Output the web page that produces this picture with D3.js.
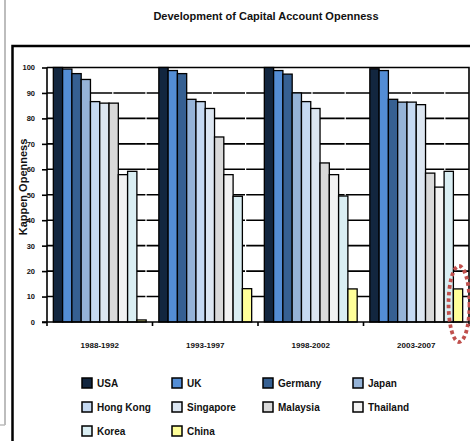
<!DOCTYPE html>
<html>
<head>
<meta charset="utf-8">
<script src="https://cdn.jsdelivr.net/npm/d3@7"></script>
<style>
  html, body { margin: 0; padding: 0; background: #fff; }
  svg { display: block; font-family: "Liberation Sans", Arial, sans-serif; }
</style>
</head>
<body>
<svg id="chart" width="470" height="441"></svg>
<script>
const periods = ["1988-1992", "1993-1997", "1998-2002", "2003-2007"];
const countries = ["USA", "UK", "Germany", "Japan", "Hong Kong", "Singapore", "Malaysia", "Thailand", "Korea", "China"];
const colors = ["#12263f", "#538dd5", "#366092", "#95b3d7", "#c5d9f1", "#dce6f1", "#d9d9d9", "#f2f2f2", "#daeef3", "#ffff99"];
const USA       = [100, 100, 100, 99.5];
const UK        = [99.4, 98.8, 98.8, 98.8];
const Germany   = [97.6, 97.6, 97.4, 87.5];
const Japan     = [95.3, 87.5, 90.0, 86.4];
const HongKong  = [86.6, 86.6, 86.6, 86.4];
const Singapore = [86.0, 83.9, 83.9, 85.4];
const Malaysia  = [86.0, 72.7, 62.5, 58.5];
const Thailand  = [57.9, 57.9, 57.9, 53.0];
const Korea     = [59.2, 49.4, 49.5, 59.2];
const China     = [0.8, 13.1, 13.0, 13.0];
const yTicks = [0, 10, 20, 30, 40, 50, 60, 70, 80, 90, 100];

const seriesValues = [USA, UK, Germany, Japan, HongKong, Singapore, Malaysia, Thailand, Korea, China];

const svg = d3.select("#chart");

// outer decorations
svg.append("line").attr("x1", 5).attr("x2", 5).attr("y1", 0).attr("y2", 425)
  .attr("stroke", "#bdbdbd").attr("stroke-width", 2);
svg.append("line").attr("x1", 0).attr("x2", 5).attr("y1", 425).attr("y2", 425)
  .attr("stroke", "#bdbdbd").attr("stroke-width", 1.5);
svg.append("rect").attr("x", 12.5).attr("y", 46).attr("width", 480).attr("height", 420)
  .attr("fill", "none").attr("stroke", "#000").attr("stroke-width", 2.5);

// title
svg.append("text").attr("x", 266).attr("y", 20).attr("text-anchor", "middle")
  .attr("font-size", 11).attr("font-weight", "bold").attr("fill", "#111")
  .text("Development of Capital Account Openness");

const pLeft = 47, pRight = 469, pTop = 67.5, pBottom = 322;
const x0 = d3.scaleBand().domain(periods).range([pLeft, pRight]).padding(0);
const bw = x0.bandwidth();
const x1 = d3.scaleBand().domain(countries).range([bw * 0.06, bw * 0.94]).padding(0);
const y = d3.scaleLinear().domain([0, 100]).range([pBottom, pTop]);

// gridlines
svg.append("g").selectAll("line").data(yTicks.filter(t => t > 0 && t < 100)).join("line")
  .attr("x1", pLeft).attr("x2", pRight)
  .attr("y1", d => y(d)).attr("y2", d => y(d))
  .attr("stroke", "#000").attr("stroke-width", 1.6).attr("stroke-dasharray", "32,1.2");

// plot border (top and right)
svg.append("path")
  .attr("d", `M${pLeft},${y(100)}H${pRight}V${pBottom}`)
  .attr("fill", "none").attr("stroke", "#000").attr("stroke-width", 1.6);

// bars
const groups = svg.append("g").selectAll("g").data(periods).join("g")
  .attr("transform", d => `translate(${x0(d)},0)`);
groups.selectAll("rect")
  .data((p, pi) => countries.map((c, ci) => ({ c, ci, v: seriesValues[ci][pi] })))
  .join("rect")
  .attr("x", d => x1(d.c))
  .attr("width", x1.bandwidth())
  .attr("y", d => y(d.v))
  .attr("height", d => y(0) - y(d.v))
  .attr("fill", d => colors[d.ci])
  .attr("stroke", "#000").attr("stroke-width", 1.3);

// y axis
const yAxis = d3.axisLeft(y).tickValues(yTicks).tickSize(5).tickPadding(7);
const gy = svg.append("g").attr("transform", `translate(${pLeft},0)`).call(yAxis);
gy.select(".domain").attr("stroke", "#000").attr("stroke-width", 1.6).attr("d", `M0,${pTop}V${pBottom}`);
gy.selectAll(".tick line").attr("stroke", "#000").attr("stroke-width", 1.6);
gy.selectAll(".tick text").attr("font-size", 7.5).attr("font-weight", "bold").attr("fill", "#111")
  .attr("font-family", "'Liberation Sans', Arial, sans-serif");

// x axis
svg.append("line").attr("x1", pLeft - 5).attr("x2", pRight).attr("y1", pBottom).attr("y2", pBottom)
  .attr("stroke", "#000").attr("stroke-width", 1.6);
const bounds = periods.map(p => x0(p)).concat([pRight]);
svg.append("g").selectAll("line").data(bounds).join("line")
  .attr("x1", d => d).attr("x2", d => d).attr("y1", pBottom).attr("y2", pBottom + 4)
  .attr("stroke", "#000").attr("stroke-width", 1.6);
svg.append("g").selectAll("text").data(periods).join("text")
  .attr("x", d => x0(d) + bw / 2).attr("y", 348)
  .attr("text-anchor", "middle").attr("font-size", 8).attr("font-weight", "bold").attr("fill", "#111")
  .text(d => d);

// y title
svg.append("text")
  .attr("transform", "translate(27,187) rotate(-90)")
  .attr("text-anchor", "middle").attr("font-size", 11).attr("font-weight", "bold").attr("fill", "#111")
  .text("Kappen Openness");

// highlight ellipse
svg.append("ellipse")
  .attr("cx", x0(periods[3]) + x1("China") + x1.bandwidth() / 2 + 1)
  .attr("cy", 304)
  .attr("rx", 10.5).attr("ry", 38)
  .attr("fill", "none").attr("stroke", "#c0504d").attr("stroke-width", 3.8)
  .attr("stroke-dasharray", "3.5,3");

// legend
const legX = [82, 172, 263, 353];
const legY = [383, 407, 431];
const leg = svg.append("g").selectAll("g").data(countries).join("g")
  .attr("transform", (d, i) => `translate(${legX[i % 4]},${legY[Math.floor(i / 4)]})`);
leg.append("rect").attr("x", 0).attr("y", -5).attr("width", 10).attr("height", 10)
  .attr("fill", (d, i) => colors[i]).attr("stroke", "#000").attr("stroke-width", 1.5);
leg.append("text").attr("x", 15).attr("y", 3.5)
  .attr("font-size", 10).attr("font-weight", "bold").attr("fill", "#111")
  .text(d => d);
</script>
</body>
</html>
